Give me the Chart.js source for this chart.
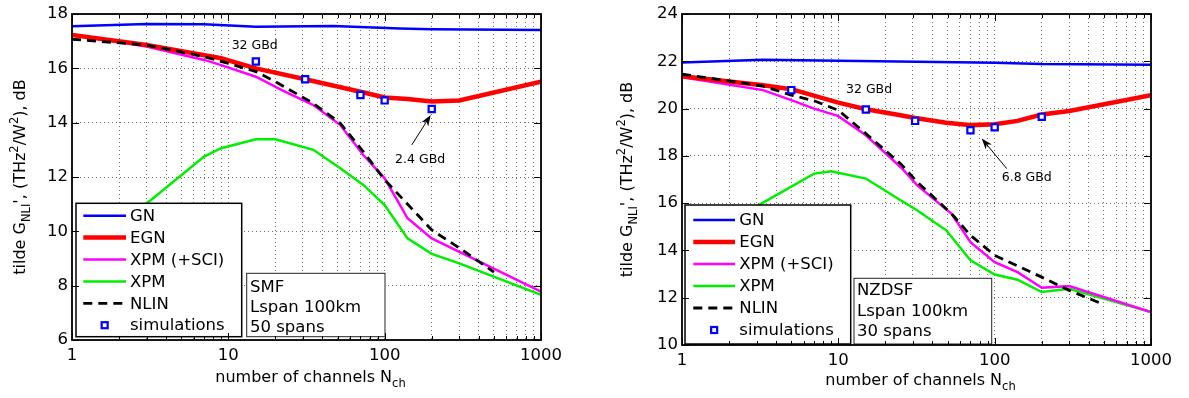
<!DOCTYPE html>
<html>
<head>
<meta charset="utf-8">
<script src="https://cdn.jsdelivr.net/npm/chart.js@4.4.0/dist/chart.umd.min.js"></script>
<style>
  html, body { margin: 0; padding: 0; background: #fff; }
  #wrap { position: relative; width: 1189px; height: 398px; }
  canvas { position: absolute; top: 0; }
</style>
</head>
<body>
<div id="wrap">
  <canvas id="smf" width="595" height="398" style="left:0"></canvas>
  <canvas id="nzdsf" width="594" height="398" style="left:595px"></canvas>
</div>
<script>
// ---- data ----
const legendLabels = ['GN', 'EGN', 'XPM (+SCI)', 'XPM', 'NLIN', 'simulations'];
const xTickLabels = [1, 10, 100, 1000];
const smfYTicks = [6, 8, 10, 12, 14, 16, 18];
const nzdsfYTicks = [10, 12, 14, 16, 18, 20, 22, 24];

// SMF panel
const smfGN_N = [1, 3, 7, 15, 47, 125, 200, 1000];
const smfGN = [17.55, 17.63, 17.62, 17.53, 17.56, 17.47, 17.44, 17.41];
const smfEGN_N = [1, 3, 9, 15, 31, 70, 100, 140, 200, 300, 1000];
const smfEGN = [17.23, 16.86, 16.37, 16.0, 15.6, 15.14, 14.93, 14.87, 14.78, 14.82, 15.51];
const smfSCI_N = [1, 3, 7, 9, 15, 22, 35, 52, 73, 100, 140, 200, 1000];
const smfSCI = [17.25, 16.8, 16.31, 16.12, 15.69, 15.2, 14.65, 13.91, 12.81, 11.95, 10.48, 9.74, 7.78];
const smfXPM_N = [2, 3.2, 7, 9, 15, 20, 35, 52, 73, 100, 140, 200, 300, 1000];
const smfXPM = [10.3, 11.15, 12.75, 13.06, 13.39, 13.39, 13.0, 12.32, 11.71, 10.97, 9.74, 9.17, 8.82, 7.66];
const smfNLIN_N = [1, 3, 7, 10, 15, 20, 35, 52, 73, 100, 200, 300, 500];
const smfNLIN = [17.07, 16.86, 16.43, 16.18, 15.88, 15.51, 14.71, 13.98, 12.93, 11.9, 10.05, 9.39, 8.5];
const smfSim_N = [15, 31, 70, 100, 200];
const smfSim = [16.25, 15.6, 15.02, 14.82, 14.5];

// NZDSF panel
const nzGN_N = [1, 3.3, 10, 18, 100, 200, 1000];
const nzGN = [21.95, 22.06, 22.02, 22.0, 21.94, 21.88, 21.85];
const nzEGN_N = [1, 3.3, 5, 10, 15, 25, 31, 49, 71, 100, 140, 200, 300, 1000];
const nzEGN = [21.37, 20.99, 20.82, 20.25, 19.97, 19.72, 19.6, 19.4, 19.3, 19.34, 19.48, 19.75, 19.9, 20.57];
const nzSCI_N = [1, 3.3, 5, 7, 10, 15, 25, 32, 53, 70, 100, 140, 200, 300, 1000];
const nzSCI = [21.33, 20.78, 20.36, 20.0, 19.68, 18.87, 17.53, 16.75, 15.55, 14.35, 13.5, 13.08, 12.42, 12.49, 11.39];
const nzXPM_N = [2, 3.5, 7, 9, 15, 25, 32, 49, 70, 100, 140, 200, 300, 1000];
const nzXPM = [15.2, 16.12, 17.25, 17.35, 17.04, 16.12, 15.69, 14.85, 13.58, 12.98, 12.76, 12.24, 12.38, 11.39];
const nzNLIN_N = [1, 3.3, 5, 7, 10, 15, 25, 32, 53, 70, 100, 200, 300, 500];
const nzNLIN = [21.46, 20.95, 20.57, 20.33, 19.93, 18.94, 17.67, 16.89, 15.55, 14.64, 13.79, 12.87, 12.31, 11.71];
const nzSim_N = [5, 15, 31, 70, 100, 200];
const nzSim = [20.78, 19.96, 19.48, 19.08, 19.21, 19.65];

const FONT = '"DejaVu Sans", "Liberation Sans", sans-serif';

// grid at 1..9 of every decade, like matlab's minor log grid
const xGridValues = [];
for (let d = 1; d < 1000; d *= 10) {
  for (let k = 1; k < 10; k++) xGridValues.push(k * d);
}
xGridValues.push(1000);

function series(label, ns, vs, style) {
  return Object.assign({
    label: label,
    data: ns.map((n, i) => ({ x: n, y: vs[i] })),
    pointRadius: 0,
    tension: 0,
    fill: false
  }, style);
}

const styles = [
  { borderColor: '#0000ff', borderWidth: 2.5, order: 5 },
  { borderColor: '#ff0000', borderWidth: 4.5, order: 2 },
  { borderColor: '#ff00ff', borderWidth: 2.5, order: 3 },
  { borderColor: '#00ee00', borderWidth: 2.5, order: 4 },
  { borderColor: '#000000', borderWidth: 2.8, borderDash: [9, 6], order: 1 },
  { showLine: false, pointStyle: 'rect', pointRadius: 4.4, pointBorderWidth: 2.2,
    pointBorderColor: '#0000ff', pointBackgroundColor: '#ffffff', borderColor: '#0000ff', order: 0 }
];

// text with sub/superscripts, drawn piece by piece
function richWidth(ctx, parts, size) {
  let w = 0;
  parts.forEach(([t, kind]) => {
    ctx.font = (kind ? size * 0.72 : size) + 'px ' + FONT;
    w += ctx.measureText(t).width;
  });
  return w;
}
function drawRich(ctx, x, y, parts, size) {
  let cx = x;
  parts.forEach(([t, kind]) => {
    const fs = kind ? size * 0.72 : size;
    const dy = kind === 'sub' ? size * 0.33 : kind === 'sup' ? -size * 0.45 : 0;
    ctx.font = fs + 'px ' + FONT;
    ctx.fillText(t, cx, y + dy);
    cx += ctx.measureText(t).width;
  });
}

const yTitleParts = [['tilde G', ''], ['NLI', 'sub'], ["', (THz", ''], ['2', 'sup'], ['/W', ''], ['2', 'sup'], ['), dB', '']];
const xTitleParts = [['number of channels N', ''], ['ch', 'sub']];

function drawArrow(ctx, x0, y0, x1, y1) {
  const a = Math.atan2(y1 - y0, x1 - x0);
  const len = 11, half = 4;
  ctx.strokeStyle = '#000';
  ctx.lineWidth = 1;
  ctx.beginPath();
  ctx.moveTo(x0, y0);
  ctx.lineTo(x1 - Math.cos(a) * 6, y1 - Math.sin(a) * 6);
  ctx.stroke();
  const bx = x1 - Math.cos(a) * len, by = y1 - Math.sin(a) * len;
  const nx = -Math.sin(a), ny = Math.cos(a);
  ctx.fillStyle = '#000';
  ctx.beginPath();
  ctx.moveTo(x1, y1);
  ctx.lineTo(bx + nx * half, by + ny * half);
  ctx.lineTo(x1 - Math.cos(a) * len * 0.7, y1 - Math.sin(a) * len * 0.7);
  ctx.lineTo(bx - nx * half, by - ny * half);
  ctx.closePath();
  ctx.fill();
}

// legend box, info box, notes, frame and axis titles the matlab way
const matlabLook = {
  id: 'matlabLook',
  afterDatasetsDraw(chart, args, opts) {
    const ctx = chart.ctx;
    const area = chart.chartArea;
    const xs = chart.scales.x, ys = chart.scales.y;
    ctx.save();

    // legend
    const L = opts.legend;
    ctx.fillStyle = '#fff';
    ctx.fillRect(L.x, L.y, L.w, L.h);
    ctx.strokeStyle = '#000';
    ctx.lineWidth = 1.5;
    ctx.setLineDash([]);
    ctx.strokeRect(L.x, L.y, L.w, L.h);
    chart.data.datasets.forEach((ds, i) => {
      const cy = L.rowTop + i * L.rowGap;
      if (ds.showLine === false) {
        const s = 6;
        const cx = (L.sampleX0 + L.sampleX1) / 2;
        ctx.fillStyle = ds.pointBackgroundColor;
        ctx.strokeStyle = ds.pointBorderColor;
        ctx.lineWidth = ds.pointBorderWidth;
        ctx.fillRect(cx - s / 2, cy - s / 2, s, s);
        ctx.strokeRect(cx - s / 2, cy - s / 2, s, s);
      } else {
        ctx.strokeStyle = ds.borderColor;
        ctx.lineWidth = ds.borderWidth;
        ctx.setLineDash(ds.borderDash || []);
        ctx.beginPath();
        ctx.moveTo(L.sampleX0, cy);
        ctx.lineTo(L.sampleX1, cy);
        ctx.stroke();
        ctx.setLineDash([]);
      }
      ctx.fillStyle = '#000';
      ctx.font = '16.5px ' + FONT;
      ctx.textBaseline = 'middle';
      ctx.textAlign = 'left';
      ctx.fillText(ds.label, L.textX, cy + 1);
    });

    // fibre info box
    const B = opts.infoBox;
    ctx.fillStyle = '#fff';
    ctx.fillRect(B.x, B.y, B.w, B.h);
    ctx.strokeStyle = '#222';
    ctx.lineWidth = 1;
    ctx.strokeRect(B.x, B.y, B.w, B.h);
    ctx.fillStyle = '#000';
    ctx.font = '16.5px ' + FONT;
    B.lines.forEach((t, i) => ctx.fillText(t, B.textX, B.lineTop + i * B.lineGap + 1));

    // symbol-rate notes and arrow
    ctx.font = '12.5px ' + FONT;
    opts.notes.forEach(n => ctx.fillText(n.text, xs.getPixelForValue(n.n), ys.getPixelForValue(n.v)));
    opts.arrows.forEach(a => drawArrow(ctx,
      xs.getPixelForValue(a.from[0]), ys.getPixelForValue(a.from[1]),
      xs.getPixelForValue(a.to[0]), ys.getPixelForValue(a.to[1])));

    // frame with inward ticks
    ctx.strokeStyle = '#000';
    ctx.lineWidth = 1;
    ctx.beginPath();
    xGridValues.forEach(v => {
      const px = Math.round(xs.getPixelForValue(v)) + 0.5;
      const t = xTickLabels.includes(v) ? 7 : 4;
      ctx.moveTo(px, area.bottom); ctx.lineTo(px, area.bottom - t);
      ctx.moveTo(px, area.top); ctx.lineTo(px, area.top + t);
    });
    ys.ticks.forEach(tk => {
      const py = Math.round(ys.getPixelForValue(tk.value)) + 0.5;
      ctx.moveTo(area.left, py); ctx.lineTo(area.left + 7, py);
      ctx.moveTo(area.right, py); ctx.lineTo(area.right - 7, py);
    });
    ctx.stroke();
    ctx.lineWidth = 1.8;
    ctx.strokeRect(area.left, area.top, area.right - area.left, area.bottom - area.top);
    ctx.restore();
  },
  afterDraw(chart, args, opts) {
    const ctx = chart.ctx;
    const area = chart.chartArea;
    ctx.save();
    ctx.fillStyle = '#000';
    ctx.textBaseline = 'alphabetic';
    ctx.textAlign = 'left';
    const size = 16;
    // y title, rotated
    const wy = richWidth(ctx, yTitleParts, size);
    ctx.translate(opts.yTitleX, (area.top + area.bottom) / 2);
    ctx.rotate(-Math.PI / 2);
    drawRich(ctx, -wy / 2, 0, yTitleParts, size);
    ctx.setTransform(1, 0, 0, 1, 0, 0);
    // x title
    const wx = richWidth(ctx, xTitleParts, size);
    drawRich(ctx, (area.left + area.right) / 2 - wx / 2 + 4, area.bottom + opts.xTitleDy, xTitleParts, size);
    ctx.restore();
  }
};

function makeChart(id, sets, yTicks, frame, extras) {
  const ctx = document.getElementById(id).getContext('2d');
  return new Chart(ctx, {
    type: 'line',
    data: {
      datasets: sets.map(([ns, vs], i) => series(legendLabels[i], ns, vs, styles[i]))
    },
    options: {
      responsive: false,
      animation: false,
      events: [],
      layout: { padding: { left: 0, top: frame.top, right: frame.right, bottom: 0 } },
      scales: {
        x: {
          type: 'logarithmic',
          min: 1,
          max: 1000,
          afterFit: s => { s.height = frame.xHeight; },
          afterBuildTicks: s => { s.ticks = xGridValues.map(v => ({ value: v })); },
          grid: { color: '#6e6e6e', lineWidth: 1, drawTicks: false },
          border: { display: false, dash: [1, 3] },
          ticks: {
            autoSkip: false, maxRotation: 0, padding: 6, color: '#000',
            font: { family: FONT, size: 16.5 },
            callback: v => (xTickLabels.includes(v) ? String(v) : '')
          }
        },
        y: {
          min: yTicks[0],
          max: yTicks[yTicks.length - 1],
          afterFit: s => { s.width = frame.yWidth; },
          afterBuildTicks: s => { s.ticks = yTicks.map(v => ({ value: v })); },
          grid: { color: '#6e6e6e', lineWidth: 1, drawTicks: false },
          border: { display: false, dash: [1, 3] },
          ticks: { padding: 4, color: '#000', font: { family: FONT, size: 16.5 } }
        }
      },
      plugins: {
        legend: { display: false },
        tooltip: { enabled: false },
        matlabLook: extras
      }
    },
    plugins: [matlabLook]
  });
}

makeChart('smf',
  [[smfGN_N, smfGN], [smfEGN_N, smfEGN], [smfSCI_N, smfSCI], [smfXPM_N, smfXPM], [smfNLIN_N, smfNLIN], [smfSim_N, smfSim]],
  smfYTicks,
  { top: 14, right: 54, xHeight: 58, yWidth: 72 },
  {
    legend: { x: 76, y: 203.3, w: 165.7, h: 133.4, rowTop: 215.7, rowGap: 21.9, sampleX0: 83.3, sampleX1: 126, textX: 130 },
    infoBox: { x: 246.7, y: 273.3, w: 138.3, h: 63.4, textX: 250, lineTop: 286.7, lineGap: 20, lines: ['SMF', 'Lspan 100km', '50 spans'] },
    notes: [{ text: '32 GBd', n: 10.5, v: 16.83 }, { text: '2.4 GBd', n: 116.6, v: 12.62 }],
    arrows: [{ from: [149, 13.18], to: [197, 14.28] }],
    yTitleX: 25,
    xTitleDy: 42
  });

makeChart('nzdsf',
  [[nzGN_N, nzGN], [nzEGN_N, nzEGN], [nzSCI_N, nzSCI], [nzXPM_N, nzXPM], [nzNLIN_N, nzNLIN], [nzSim_N, nzSim]],
  nzdsfYTicks,
  { top: 14, right: 38, xHeight: 53, yWidth: 87 },
  {
    legend: { x: 90, y: 205, w: 165.7, h: 139, rowTop: 220, rowGap: 22, sampleX0: 98.3, sampleX1: 140, textX: 144.3 },
    infoBox: { x: 259, y: 278.3, w: 137.7, h: 65.7, textX: 262, lineTop: 290, lineGap: 20.3, lines: ['NZDSF', 'Lspan 100km', '30 spans'] },
    notes: [{ text: '32 GBd', n: 11.2, v: 20.78 }, { text: '6.8 GBd', n: 111, v: 17.09 }],
    arrows: [{ from: [119.5, 17.46], to: [82.7, 18.73] }],
    yTitleX: 37,
    xTitleDy: 40
  });
</script>
</body>
</html>
